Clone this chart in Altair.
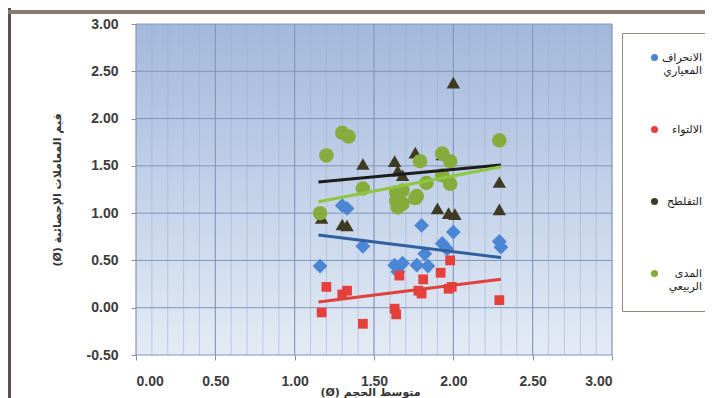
import altair as alt
import pandas as pd

W, H = 476, 331

# ---- data ----
series = ["الانحراف المعياري", "الالتواء", "التفلطح", "المدى الربيعي"]

std_x = [1.16, 1.30, 1.33, 1.43, 1.63, 1.65, 1.68, 1.77, 1.80, 1.82, 1.84, 1.93, 1.96, 2.00, 2.29, 2.30]
std_y = [0.44, 1.08, 1.05, 0.65, 0.45, 0.38, 0.47, 0.45, 0.87, 0.57, 0.44, 0.68, 0.62, 0.80, 0.70, 0.64]

skw_x = [1.17, 1.20, 1.30, 1.33, 1.43, 1.63, 1.64, 1.66, 1.78, 1.80, 1.81, 1.92, 1.97, 1.98, 1.99, 2.29]
skw_y = [-0.05, 0.22, 0.14, 0.18, -0.17, -0.01, -0.07, 0.34, 0.18, 0.15, 0.30, 0.37, 0.20, 0.50, 0.22, 0.08]

krt_x = [1.17, 1.30, 1.33, 1.43, 1.63, 1.65, 1.68, 1.76, 1.93, 1.90, 1.97, 2.01, 2.00, 2.29, 2.29]
krt_y = [0.95, 0.88, 0.87, 1.52, 1.55, 1.45, 1.40, 1.64, 1.62, 1.05, 1.00, 0.99, 2.38, 1.33, 1.04]

iqr_x = [1.16, 1.20, 1.30, 1.34, 1.43, 1.64, 1.64, 1.65, 1.68, 1.68, 1.76, 1.77, 1.79, 1.83, 1.93, 1.93, 1.98, 1.98, 2.29]
iqr_y = [1.00, 1.61, 1.85, 1.81, 1.26, 1.22, 1.13, 1.06, 1.24, 1.10, 1.16, 1.18, 1.55, 1.32, 1.63, 1.40, 1.55, 1.31, 1.77]

# linear trend lines (end points)
trend_x = [1.15, 2.30]
trend_std = [0.77, 0.53]
trend_skw = [0.06, 0.30]
trend_krt = [1.33, 1.51]
trend_iqr = [1.12, 1.49]

x_ticks = [0, 0.5, 1.0, 1.5, 2.0, 2.5, 3.0]
y_ticks = [-0.5, 0, 0.5, 1.0, 1.5, 2.0, 2.5, 3.0]
minor_x = [round(i * 0.1, 1) for i in range(31)]

marker_colors = ["#4a86d4", "#e6403c", "#3e3a24", "#86ad3c"]
marker_shapes = ["diamond", "square", "triangle-up", "circle"]
marker_sizes = [220, 95, 180, 210]
line_colors = ["#2f5f9f", "#e0403a", "#1c1c1c", "#8ec63f"]

# ---- tables ----
rows = []
for name, xs_, ys_ in zip(series, [std_x, skw_x, krt_x, iqr_x], [std_y, skw_y, krt_y, iqr_y]):
    for a, b in zip(xs_, ys_):
        rows.append({"s": name, "x": a, "y": b})
pts = pd.DataFrame(rows)

trows = []
for name, ty in zip(series, [trend_std, trend_skw, trend_krt, trend_iqr]):
    for a, b in zip(trend_x, ty):
        trows.append({"s": name, "x": a, "y": b})
trend = pd.DataFrame(trows)

xs = alt.Scale(domain=[0, 3], nice=False, zero=False)
ys = alt.Scale(domain=[-0.5, 3], nice=False, zero=False)

lab = dict(labelFont="Liberation Sans", labelFontWeight="bold", labelFontSize=14,
           labelColor="#3c3c3c", tickColor="#8c8c8c", tickSize=5, domain=False, grid=False,
           titleFont="DejaVu Sans", titleFontWeight="bold", titleFontSize=11, titleColor="#333333",
           labelExpr="replace(format(datum.value, '.2f'), '\u2212', '-')")

x_axis = alt.Axis(values=x_ticks, title="(Ø) متوسط الحجم", labelPadding=14,
                  titleX=234, titleY=40, titleAnchor="middle", titleBaseline="alphabetic", **lab)
y_axis = alt.Axis(values=y_ticks, title="(Ø) قيم المعاملات الإحصائية", labelPadding=13,
                  titleX=-79, titleY=H / 2, titleAngle=270, titleAlign="center",
                  titleBaseline="middle", **lab)

one = pd.DataFrame({"d": [0]})

bg = alt.Chart(one).mark_rect(
    color=alt.LinearGradient(gradient="linear", x1=0, x2=0, y1=0, y2=1,
                             stops=[alt.GradientStop(color="#a3b8da", offset=0),
                                    alt.GradientStop(color="#c3d2e9", offset=0.5),
                                    alt.GradientStop(color="#e4ebf5", offset=1)])
).encode(x=alt.value(0), x2=alt.value(W), y=alt.value(0), y2=alt.value(H))

minor = alt.Chart(pd.DataFrame({"v": minor_x})).mark_rule(
    color="#9aaecd", strokeWidth=1, opacity=0.55
).encode(x=alt.X("v:Q", scale=xs, axis=x_axis))

vmaj = alt.Chart(pd.DataFrame({"v": x_ticks})).mark_rule(
    color="#8094ba", strokeWidth=1
).encode(x=alt.X("v:Q", scale=xs, axis=x_axis))

hmaj = alt.Chart(pd.DataFrame({"v": y_ticks})).mark_rule(
    color="#8094ba", strokeWidth=1
).encode(y=alt.Y("v:Q", scale=ys, axis=y_axis))

leg = alt.Legend(orient="none", legendX=486, legendY=9, title=None, fillColor="white",
                 strokeColor="#8e8e7e", padding=19, rowPadding=47,
                 symbolSize=50, symbolOffset=8, labelOffset=42, labelAlign="right",
                 symbolStrokeWidth=0,
                 labelFont="DejaVu Sans", labelFontSize=11, labelColor="#222222",
                 labelExpr="length(split(datum.label, ' ')) > 1 ? split(datum.label, ' ') : [datum.label, ' ']")

points = alt.Chart(pts).mark_point(filled=True, opacity=1).encode(
    x=alt.X("x:Q", scale=xs, axis=x_axis),
    y=alt.Y("y:Q", scale=ys, axis=y_axis),
    color=alt.Color("s:N", scale=alt.Scale(domain=series, range=marker_colors), legend=leg),
    shape=alt.Shape("s:N", scale=alt.Scale(domain=series, range=marker_shapes), legend=leg),
    size=alt.Size("s:N", scale=alt.Scale(type="ordinal", domain=series, range=marker_sizes), legend=None),
)

lines = alt.Chart(trend).mark_line(strokeWidth=3).encode(
    x=alt.X("x:Q", scale=xs, axis=x_axis),
    y=alt.Y("y:Q", scale=ys, axis=y_axis),
    color=alt.Color("s:N", scale=alt.Scale(domain=series, range=line_colors), legend=None),
    detail="s:N",
)

left_border = alt.Chart(one).mark_rect(color="#5e4d52").encode(
    x=alt.value(-128), x2=alt.value(-125), y=alt.value(-16), y2=alt.value(374))
top_border = alt.Chart(one).mark_rect(color="#8a7a72").encode(
    x=alt.value(-128), x2=alt.value(569), y=alt.value(-14), y2=alt.value(-10))

chart = alt.layer(bg, minor, vmaj, hmaj, points, lines, left_border, top_border).resolve_scale(
    color="independent"
).properties(
    width=W, height=H,
    autosize=alt.AutoSizeParams(type="none"),
    padding={"left": 128, "top": 16, "right": 93, "bottom": 43},
    background="white",
).configure_view(stroke=None)

chart.save("out.html", embed_options={"renderer": "svg", "actions": False})
